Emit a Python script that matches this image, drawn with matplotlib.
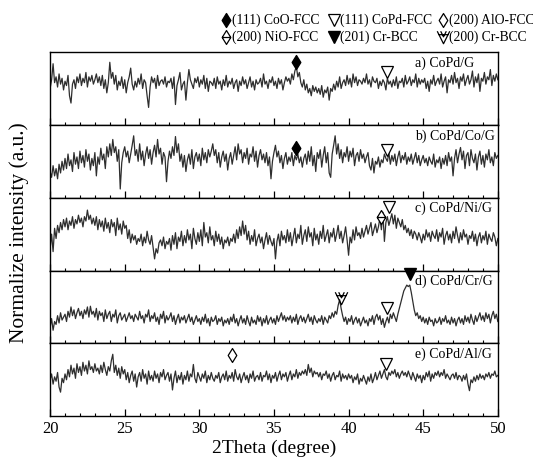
import numpy as np
import matplotlib.pyplot as plt
from matplotlib.path import Path
from matplotlib.lines import Line2D
from matplotlib.ticker import MultipleLocator

plt.rcParams['font.family'] = ['Liberation Serif', 'DejaVu Serif']

# 2theta grid, 0.1 degree step (20 -> 50)
two_theta = np.round(np.linspace(20.0, 50.0, 301), 1)

# normalized intensity (0 = panel bottom, 100 = panel top)
copd_g = [
    50, 62, 84, 58, 66, 52, 70, 56, 64, 48,
    60, 54, 68, 40, 30, 56, 62, 50, 66, 58,
    70, 54, 64, 58, 72, 52, 66, 60, 68, 56,
    62, 70, 58, 66, 54, 68, 50, 62, 44, 58,
    86, 64, 72, 56, 68, 48, 60, 54, 66, 50,
    62, 44, 58, 66, 78, 56, 48, 60, 52, 64,
    56, 70, 50, 62, 58, 40, 24, 52, 66, 58,
    64, 50, 68, 54, 60, 62, 56, 66, 52, 60,
    58, 64, 50, 66, 28, 54, 62, 72, 48, 56,
    60, 34, 58, 76, 62, 56, 50, 64, 58, 66,
    52, 62, 56, 68, 50, 64, 46, 60, 58, 54,
    64, 50, 66, 56, 60, 48, 62, 54, 68, 52,
    60, 56, 64, 50, 58, 62, 46, 60, 54, 66,
    56, 62, 50, 58, 66, 52, 60, 48, 62, 56,
    58, 64, 52, 70, 56, 60, 50, 62, 58, 66,
    54, 60, 50, 64, 56, 62, 48, 58, 66, 60,
    64, 56, 70, 62, 74, 80, 66, 72, 58, 52,
    62, 48, 56, 44, 50, 40, 54, 46, 52, 44,
    50, 42, 54, 38, 48, 44, 52, 34, 50, 46,
    56, 48, 60, 52, 66, 50, 58, 62, 54, 68,
    56, 64, 52, 70, 58, 66, 54, 62, 60, 56,
    64, 58, 70, 56, 62, 52, 66, 60, 58, 64,
    50, 60, 54, 62, 58, 48, 64, 56, 60, 52,
    62, 54, 66, 50, 60, 58, 64, 52, 68, 56,
    60, 66, 54, 62, 58, 70, 52, 64, 56, 62,
    58, 64, 50, 60, 46, 62, 56, 68, 54, 60,
    64, 56, 70, 52, 60, 66, 44, 62, 58, 68,
    56, 72, 58, 64, 50, 66, 60, 70, 54, 62,
    68, 56, 62, 74, 52, 66, 58, 70, 46, 64,
    60, 72, 56, 66, 62, 76, 54, 68, 60, 70,
    62,
]
copd_co_g = [
    36, 28, 44, 30, 40, 26, 46, 34, 50, 38,
    54, 40, 60, 44, 52, 36, 62, 46, 56, 40,
    64, 48, 58, 42, 66, 50, 60, 38, 54, 44,
    62, 30, 56, 46, 68, 52, 60, 40, 70, 56,
    74, 58, 80, 62, 70, 50, 66, 12, 48, 62,
    70, 56, 64, 48, 60, 72, 85, 58, 66, 50,
    74, 52, 64, 44, 60, 70, 54, 66, 46, 62,
    72, 56, 80, 60, 68, 46, 62, 56, 22, 50,
    64, 54, 70, 58, 84, 62, 74, 50, 60, 42,
    58, 36, 52, 60, 46, 66, 40, 56, 62, 50,
    60, 44, 68, 52, 62, 48, 66, 56, 64, 74,
    58, 66, 48, 62, 42, 56, 64, 50, 60, 38,
    54, 62, 46, 58, 70, 52, 74, 60, 66, 48,
    62, 54, 68, 46, 60, 56, 70, 50, 64, 42,
    58, 66, 52, 60, 48, 62, 44, 56, 26, 50,
    62, 72, 56, 64, 48, 58, 40, 54, 62, 46,
    56, 50, 62, 44, 58, 52, 60, 48, 56, 42,
    54, 60, 46, 64, 50, 70, 44, 58, 36, 62,
    54, 66, 42, 58, 70, 48, 62, 34, 28, 60,
    72, 85, 60, 74, 54, 66, 48, 62, 56, 70,
    50, 64, 56, 68, 44, 58, 62, 50, 66, 54,
    60, 48, 56, 62, 44, 38, 54, 34, 50, 46,
    56, 42, 52, 48, 60, 54, 50, 62, 46, 58,
    50, 60, 44, 56, 64, 48, 58, 52, 62, 46,
    56, 50, 60, 46, 54, 62, 48, 58, 44, 52,
    58, 48, 54, 44, 56, 50, 46, 60, 42, 52,
    48, 56, 40, 54, 46, 58, 44, 62, 50, 56,
    30, 54, 66, 48, 60, 69, 52, 64, 40, 58,
    62, 44, 66, 54, 48, 60, 38, 56, 64, 46,
    58, 42, 60, 52, 66, 48, 56, 44, 62, 54,
    58,
]
copd_ni_g = [
    30, 50, 26, 58, 44, 62, 52, 66, 56, 70,
    60, 72, 56, 68, 62, 74, 58, 70, 64, 76,
    66, 72, 60, 74, 68, 83, 70, 76, 64, 72,
    62, 74, 56, 70, 60, 68, 54, 72, 58, 66,
    52, 70, 60, 66, 48, 72, 56, 64, 50, 68,
    58, 62, 44, 56, 38, 50, 42, 48, 36, 44,
    40, 50, 34, 46, 38, 54, 42, 36, 48, 32,
    16, 30, 24, 38, 42, 34, 46, 30, 40, 36,
    44, 28, 48, 36, 52, 30, 46, 40, 54, 34,
    48, 38, 56, 42, 50, 30, 58, 44, 36, 52,
    40, 56, 34, 66, 46, 52, 38, 60, 42, 48,
    34, 54, 40, 50, 36, 46, 30, 42, 38, 46,
    34, 44, 40, 50, 38, 56, 44, 60, 48, 68,
    50, 62, 42, 54, 36, 48, 40, 56, 34, 44,
    50, 38, 46, 30, 42, 52, 36, 48, 40, 34,
    44, 16, 40, 50, 34, 54, 42, 48, 38, 56,
    40, 52, 34, 46, 58, 38, 50, 44, 62, 36,
    48, 56, 40, 60, 46, 52, 34, 58, 42, 50,
    36, 54, 44, 62, 40, 48, 56, 38, 52, 46,
    58, 40, 50, 62, 44, 54, 38, 48, 60, 42,
    21, 46, 38, 56, 42, 60, 48, 52, 44, 58,
    46, 54, 62, 50, 58, 66, 48, 56, 64, 52,
    60, 72, 56, 80, 40, 66, 74, 62, 70, 78,
    64, 76, 58, 72, 66, 60, 70, 56, 62, 52,
    58, 48, 56, 44, 54, 50, 42, 52, 46, 38,
    50, 42, 56, 46, 52, 40, 54, 48, 44, 56,
    40, 52, 46, 58, 36, 48, 54, 42, 50, 38,
    54, 44, 60, 48, 38, 52, 42, 56, 46, 50,
    36, 48, 44, 54, 40, 50, 34, 46, 52, 38,
    48, 42, 54, 36, 50, 44, 40, 52, 46, 34,
    44,
]
copd_cr_g = [
    22, 34, 18, 30, 26, 38, 28, 42, 32, 36,
    40, 30, 44, 36, 50, 38, 46, 34, 42, 48,
    38, 44, 34, 46, 40, 50, 36, 51, 40, 44,
    36, 48, 32, 44, 38, 42, 30, 46, 34, 40,
    44, 30, 40, 36, 46, 28, 38, 42, 32, 36,
    40, 30, 36, 42, 34, 38, 30, 40, 36, 32,
    44, 34, 38, 28, 40, 36, 46, 30, 38, 34,
    42, 30, 36, 26, 40, 34, 44, 28, 38, 32,
    36, 42, 30, 38, 26, 34, 40, 28, 36, 32,
    38, 28, 34, 40, 30, 36, 26, 32, 38, 30,
    34, 26, 36, 30, 40, 28, 34, 24, 36, 30,
    32, 38, 26, 34, 30, 36, 24, 32, 28, 34,
    26, 36, 30, 40, 28, 34, 24, 32, 38, 28,
    34, 26, 38, 30, 24, 36, 28, 32, 26, 38,
    30, 36, 24, 34, 28, 38, 26, 32, 36, 28,
    34, 26, 38, 30, 36, 42, 32, 38, 30, 36,
    32, 38, 28, 36, 30, 40, 26, 34, 38, 30,
    36, 28, 34, 40, 30, 36, 26, 38, 32, 28,
    34, 30, 38, 26, 36, 32, 28, 38, 34, 42,
    36, 44, 40, 52, 60, 48, 38, 30, 36, 26,
    34, 30, 38, 26, 32, 36, 28, 34, 24, 30,
    36, 28, 32, 24, 34, 30, 38, 26, 36, 40,
    32, 38, 26, 34, 22, 30, 36, 28, 40, 34,
    42, 36, 30, 40, 48, 56, 64, 72, 76, 80,
    78, 80, 70, 58, 46, 38, 42, 34, 38, 30,
    36, 28, 34, 26, 36, 30, 32, 24, 34, 28,
    30, 36, 26, 34, 30, 38, 28, 32, 26, 36,
    28, 34, 24, 32, 36, 28, 34, 26, 38, 30,
    36, 28, 40, 32, 26, 38, 30, 36, 42, 32,
    38, 30, 42, 34, 40, 28, 38, 44, 34, 40,
    30,
]
copd_al_g = [
    50, 58, 44, 54, 48, 60, 40, 33, 52, 46,
    58, 50, 64, 54, 70, 58, 66, 52, 72, 60,
    68, 56, 74, 62, 70, 58, 76, 64, 68, 60,
    72, 62, 66, 58, 70, 60, 74, 64, 56, 68,
    62, 76, 85, 60, 70, 56, 66, 52, 68, 58,
    64, 50, 60, 46, 56, 62, 48, 58, 40, 54,
    60, 48, 64, 52, 58, 44, 62, 50, 56, 48,
    62, 52, 58, 46, 60, 54, 64, 50, 56, 60,
    48, 58, 36, 52, 62, 46, 56, 50, 60, 44,
    56, 50, 62, 48, 58, 54, 71, 52, 46, 60,
    54, 48, 58, 52, 62, 46, 56, 50, 60, 52,
    48, 56, 52, 60, 46, 54, 58, 50, 62, 48,
    56, 52, 60, 48, 64, 54, 50, 58, 46, 54,
    60, 50, 56, 46, 58, 52, 62, 48, 54, 56,
    50, 60, 48, 56, 54, 62, 50, 58, 46, 56,
    52, 60, 48, 56, 62, 50, 58, 54, 60, 48,
    56, 62, 50, 58, 54, 64, 52, 60, 56, 62,
    58, 64, 56, 71, 60, 66, 54, 62, 58, 60,
    54, 60, 50, 58, 56, 62, 52, 58, 48, 56,
    60, 50, 56, 54, 62, 48, 58, 52, 56, 50,
    58, 52, 56, 46, 54, 50, 58, 44, 52, 48,
    56, 50, 44, 54, 48, 58, 46, 52, 60, 50,
    56, 62, 52, 58, 64, 54, 50, 60, 56, 62,
    58, 64, 54, 60, 52, 58, 62, 56, 60, 54,
    62, 56, 50, 60, 54, 48, 58, 52, 56, 46,
    56, 50, 60, 54, 62, 48, 58, 52, 60, 56,
    62, 54, 60, 56, 64, 52, 58, 54, 50, 56,
    58, 52, 60, 50, 56, 54, 48, 56, 50, 58,
    44, 35, 50, 46, 54, 48, 56, 50, 58, 52,
    56, 50, 58, 54, 60, 52, 58, 56, 62, 54,
    56,
]

samples = ['a) CoPd/G', 'b) CoPd/Co/G', 'c) CoPd/Ni/G', 'd) CoPd/Cr/G', 'e) CoPd/Al/G']
traces = [copd_g, copd_co_g, copd_ni_g, copd_cr_g, copd_al_g]

# phase markers: panel, 2theta, height (panel units), phase
peak_panel = [0, 0, 1, 1, 2, 2, 3, 3, 3, 4, 4]
peak_pos = [36.5, 42.6, 36.5, 42.6, 42.7, 42.2, 44.1, 39.5, 42.6, 32.2, 42.5]
peak_height = [86, 72, 68, 65, 87, 74, 95, 62, 49, 84, 71]
peak_phase = ['CoO', 'CoPd', 'CoO', 'CoPd', 'CoPd', 'NiO', 'Cr201', 'Cr200', 'CoPd', 'AlO', 'CoPd']

legend_phases = ['CoO', 'CoPd', 'AlO', 'NiO', 'Cr201', 'Cr200']
legend_labels = ['(111) CoO-FCC', '(111) CoPd-FCC', '(200) AlO-FCC',
                 '(200) NiO-FCC', '(201) Cr-BCC', '(200) Cr-BCC']

# marker shapes
diamond = Path([(0, 1), (0.62, 0), (0, -1), (-0.62, 0), (0, 1)],
               [Path.MOVETO, Path.LINETO, Path.LINETO, Path.LINETO, Path.CLOSEPOLY])
diamond_bar = Path([(0, 1), (0.62, 0), (0, -1), (-0.62, 0), (0, 1), (-0.62, 0), (0.62, 0)],
                   [Path.MOVETO, Path.LINETO, Path.LINETO, Path.LINETO, Path.CLOSEPOLY,
                    Path.MOVETO, Path.LINETO])
double_v = Path([(-1, 1), (0, -1), (1, 1), (-0.45, 1), (0, 0.1), (0.45, 1), (-0.75, 0.45), (0.75, 0.45)],
                [Path.MOVETO, Path.LINETO, Path.LINETO, Path.MOVETO, Path.LINETO, Path.LINETO,
                 Path.MOVETO, Path.LINETO])

styles = {
    'CoO': dict(marker=diamond, markersize=10, markerfacecolor='black', markeredgecolor='black'),
    'CoPd': dict(marker='v', markersize=9, markerfacecolor='white', markeredgecolor='black', markeredgewidth=0.9),
    'AlO': dict(marker=diamond, markersize=10, markerfacecolor='white', markeredgecolor='black', markeredgewidth=0.9),
    'NiO': dict(marker=diamond_bar, markersize=10, markerfacecolor='white', markeredgecolor='black', markeredgewidth=0.9),
    'Cr201': dict(marker='v', markersize=9, markerfacecolor='black', markeredgecolor='black'),
    'Cr200': dict(marker=double_v, markersize=9, markerfacecolor='none', markeredgecolor='black', markeredgewidth=0.9),
}

fig, axes = plt.subplots(5, 1, sharex=True, figsize=(5.33, 4.65), dpi=100)
fig.subplots_adjust(left=0.094, right=0.934, top=0.888, bottom=0.105, hspace=0)

for i, ax in enumerate(axes):
    ax.plot(two_theta, traces[i], color='#2e2e2e', lw=0.9)
    ax.set_xlim(20, 50)
    ax.set_ylim(0, 100)
    ax.set_yticks([])
    ax.xaxis.set_major_locator(MultipleLocator(5))
    ax.xaxis.set_minor_locator(MultipleLocator(1))
    ax.tick_params(axis='x', which='major', direction='in', length=5, width=0.9, labelsize=12)
    ax.tick_params(axis='x', which='minor', direction='in', length=2.5, width=0.8)
    for s in ax.spines.values():
        s.set_linewidth(1.0)
    ax.text(44.45, 85, samples[i], fontsize=10, va='center', ha='left')

for p, x, h, ph in zip(peak_panel, peak_pos, peak_height, peak_phase):
    axes[p].plot([x], [h], linestyle='none', clip_on=False, zorder=5, **styles[ph])

axes[-1].set_xlabel('2Theta (degree)', fontsize=14, labelpad=2)
fig.text(0.036, 0.5, 'Normalize intensity (a.u.)', rotation=90, fontsize=15.5,
         ha='center', va='center')

# legend above the panels
col_x = [226, 334, 443]
row_y = [20, 37]
for k, (ph, lab) in enumerate(zip(legend_phases, legend_labels)):
    mx = col_x[k % 3] / 533
    my = 1 - row_y[k // 3] / 465
    fig.add_artist(Line2D([mx], [my], transform=fig.transFigure, linestyle='none', **styles[ph]))
    fig.text(mx + 6 / 533, my, lab, fontsize=9.8, ha='left', va='center')

fig.savefig('out.png', dpi=100)
